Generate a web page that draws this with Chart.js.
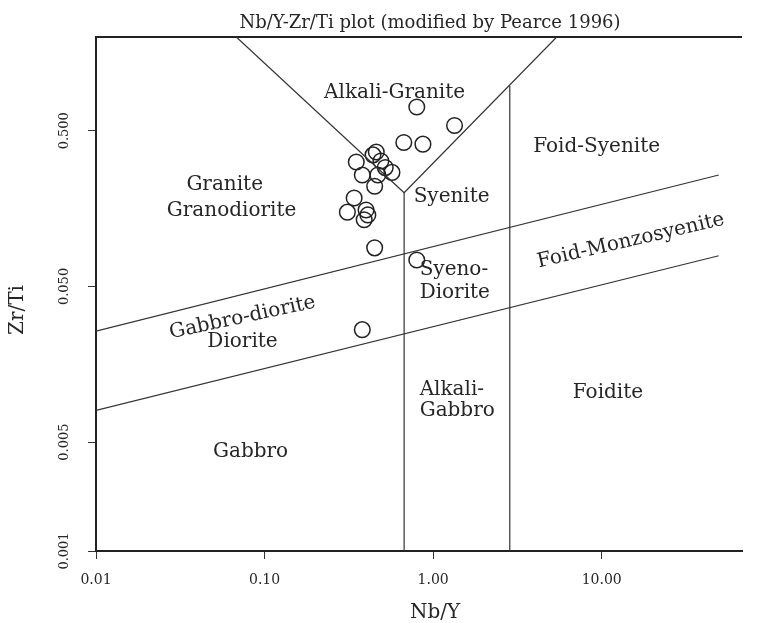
<!DOCTYPE html>
<html>
<head>
<meta charset="utf-8">
<script src="https://cdn.jsdelivr.net/npm/chart.js@4.4.1/dist/chart.umd.min.js"></script>
<style>
  html, body { margin: 0; padding: 0; background: #fff; }
  #wrap { width: 758px; height: 623px; }
</style>
</head>
<body>
<div id="wrap"><canvas id="chart" width="758" height="623"></canvas></div>
<script>
// Samples (Nb/Y, Zr/Ti)
const sampleNbY  = [0.80, 1.34, 0.67, 0.87, 0.46, 0.49, 0.44, 0.35, 0.52, 0.38, 0.47, 0.57, 0.45, 0.34, 0.31, 0.40, 0.41, 0.39, 0.45, 0.80, 0.38];
const sampleZrTi = [0.71, 0.54, 0.42, 0.41, 0.365, 0.32, 0.35, 0.315, 0.29, 0.26, 0.26, 0.27, 0.22, 0.185, 0.15, 0.155, 0.144, 0.134, 0.0885, 0.074, 0.0264];

// Field boundaries (Pearce 1996), as [Nb/Y, Zr/Ti] pairs
const leftArm     = [[0.068, 2], [0.673, 0.2]];
const rightArm    = [[0.673, 0.2], [5.41, 2]];
const stem        = [[0.673, 0.2], [0.673, 0.001]];
const foidLine    = [[2.85, 0.97], [2.85, 0.001]];
const upperSlope  = [[0.01, 0.0258], [49.5, 0.26]];
const lowerSlope  = [[0.01, 0.0080], [49.5, 0.0787]];

// Field names and where they sit (data coords), rotation in degrees
const fieldNames = ['Alkali-Granite', 'Granite', 'Granodiorite', 'Syenite', 'Foid-Syenite', 'Foid-Monzosyenite',
                    'Gabbro-diorite', 'Diorite', 'Syeno-', 'Diorite', 'Alkali-', 'Gabbro', 'Foidite', 'Gabbro'];
const fieldX     = [0.591, 0.058, 0.0637, 1.288, 9.34, 14.9, 0.074, 0.074, 0.832, 0.832, 0.832, 0.832, 10.9, 0.0826];
const fieldY     = [0.873, 0.224, 0.153, 0.188, 0.393, 0.0982, 0.0315, 0.0221, 0.064, 0.0456, 0.0109, 0.0080, 0.0104, 0.00436];
const fieldAngle = [0, 0, 0, 0, 0, -13, -12, 0, 0, 0, 0, 0, 0, 0];
const fieldAlign = ['center', 'center', 'center', 'center', 'center', 'center', 'center', 'center',
                    'left', 'left', 'left', 'left', 'center', 'center'];

// Axis ticks
const xTickValues = [0.01, 0.1, 1, 10];
const xTickLabels = ['0.01', '0.10', '1.00', '10.00'];
const yTickValues = [0.001, 0.005, 0.05, 0.5];
const yTickLabels = ['0.001', '0.005', '0.050', '0.500'];

const INK = '#262626';
const SERIF = '"DejaVu Serif", serif';

function toPoints(pairs) {
    return pairs.map(p => ({ x: p[0], y: p[1] }));
}

function boundary(pairs) {
    return {
        type: 'line',
        data: toPoints(pairs),
        borderColor: '#333',
        borderWidth: 1.2,
        pointRadius: 0,
        fill: false,
        tension: 0
    };
}

// Extra drawing: frame top, field names, titles, rotated y tick labels
const diagramPlugin = {
    id: 'diagram',
    beforeDatasetsDraw(chart) {
        const { ctx, chartArea, scales } = chart;
        ctx.save();
        ctx.strokeStyle = '#222';
        ctx.lineWidth = 2;
        ctx.beginPath();
        ctx.moveTo(chartArea.left, chartArea.top);
        ctx.lineTo(chartArea.right, chartArea.top);
        ctx.stroke();

        ctx.fillStyle = INK;
        ctx.font = '20px ' + SERIF;
        ctx.textBaseline = 'middle';
        fieldNames.forEach((name, i) => {
            const px = scales.x.getPixelForValue(fieldX[i]);
            const py = scales.y.getPixelForValue(fieldY[i]);
            ctx.save();
            ctx.translate(px, py);
            ctx.rotate(fieldAngle[i] * Math.PI / 180);
            ctx.textAlign = fieldAlign[i];
            ctx.fillText(name, 0, 0);
            ctx.restore();
        });
        ctx.restore();
    },
    afterDraw(chart) {
        const { ctx, scales } = chart;
        ctx.save();
        ctx.fillStyle = INK;
        ctx.textAlign = 'center';
        ctx.textBaseline = 'middle';

        // title
        ctx.font = '18px ' + SERIF;
        ctx.fillText('Nb/Y-Zr/Ti plot (modified by Pearce 1996)', 430, 23);

        // axis titles
        ctx.font = '20px ' + SERIF;
        ctx.fillText('Nb/Y', 435, 613);
        ctx.save();
        ctx.translate(18, 310);
        ctx.rotate(-Math.PI / 2);
        ctx.fillText('Zr/Ti', 0, 0);
        ctx.restore();

        // y tick labels, rotated
        ctx.font = '13px ' + SERIF;
        yTickValues.forEach((v, i) => {
            const py = scales.y.getPixelForValue(v);
            ctx.save();
            ctx.translate(65, py);
            ctx.rotate(-Math.PI / 2);
            ctx.fillText(yTickLabels[i], 0, 0);
            ctx.restore();
        });
        ctx.restore();
    }
};

const ctx = document.getElementById('chart').getContext('2d');

new Chart(ctx, {
    type: 'scatter',
    data: {
        datasets: [
            boundary(leftArm),
            boundary(rightArm),
            boundary(stem),
            boundary(foidLine),
            boundary(upperSlope),
            boundary(lowerSlope),
            {
                type: 'scatter',
                data: sampleNbY.map((v, i) => ({ x: v, y: sampleZrTi[i] })),
                pointRadius: 7.8,
                pointBorderWidth: 1.5,
                pointBorderColor: '#222',
                pointBackgroundColor: 'rgba(0,0,0,0)'
            }
        ]
    },
    options: {
        responsive: false,
        animation: false,
        devicePixelRatio: 1,
        layout: { padding: { top: 37, right: 16, left: 0, bottom: 0 } },
        plugins: {
            legend: { display: false },
            tooltip: { enabled: false }
        },
        scales: {
            x: {
                type: 'logarithmic',
                position: 'bottom',
                min: 0.01,
                max: 68,
                afterBuildTicks: (scale) => { scale.ticks = xTickValues.map(v => ({ value: v })); },
                afterFit: (scale) => { scale.height = 72; },
                ticks: {
                    autoSkip: false,
                    maxRotation: 0,
                    minRotation: 0,
                    padding: 13,
                    color: INK,
                    font: { family: SERIF, size: 14 },
                    callback: (value, index) => xTickLabels[index]
                },
                grid: { drawOnChartArea: false, drawTicks: true, tickLength: 8, color: '#333' },
                border: { display: true, color: '#222', width: 2 }
            },
            y: {
                type: 'logarithmic',
                position: 'left',
                min: 0.001,
                max: 2,
                afterBuildTicks: (scale) => { scale.ticks = yTickValues.map(v => ({ value: v })); },
                afterFit: (scale) => { scale.width = 96; },
                ticks: { display: false },
                grid: { drawOnChartArea: false, drawTicks: true, tickLength: 8, color: '#333' },
                border: { display: true, color: '#222', width: 2 }
            }
        }
    },
    plugins: [diagramPlugin]
});
</script>
</body>
</html>
